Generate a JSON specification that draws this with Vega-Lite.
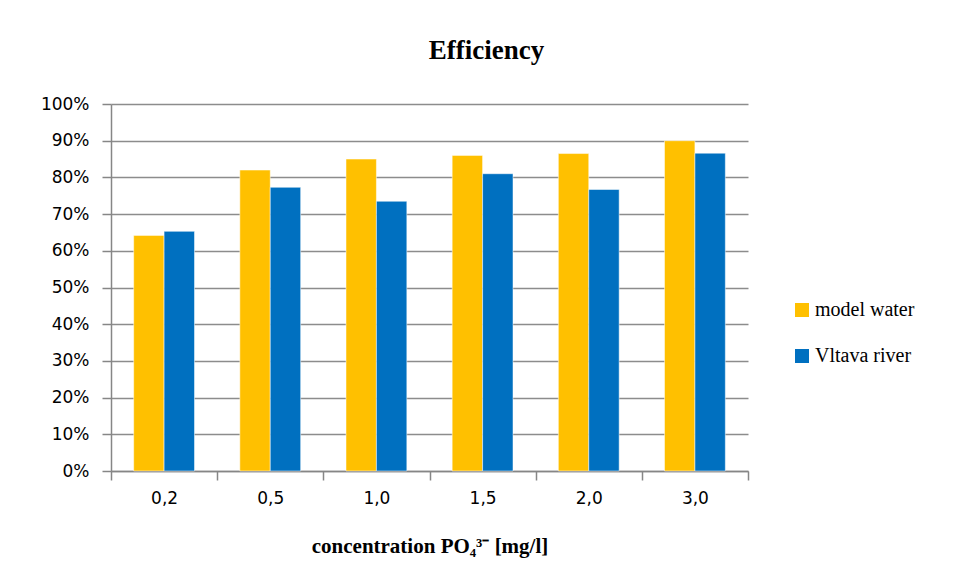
{
  "$schema": "https://vega.github.io/schema/vega-lite/v6.json",
  "autosize": "none",
  "width": 637,
  "height": 367,
  "padding": {"left": 111, "top": 104, "right": 207, "bottom": 112},
  "background": "white",
  "title": {
    "text": "Efficiency",
    "font": "Liberation Serif, serif",
    "fontSize": 27,
    "fontWeight": "bold",
    "color": "#000000",
    "anchor": "middle",
    "frame": "group",
    "dx": 57,
    "offset": 30
  },
  "data": {
    "values": [
      {"concentration": "0,2", "series": "model water", "efficiency": 64.2},
      {"concentration": "0,2", "series": "Vltava river", "efficiency": 65.3},
      {"concentration": "0,5", "series": "model water", "efficiency": 82.0},
      {"concentration": "0,5", "series": "Vltava river", "efficiency": 77.3},
      {"concentration": "1,0", "series": "model water", "efficiency": 85.0},
      {"concentration": "1,0", "series": "Vltava river", "efficiency": 73.5},
      {"concentration": "1,5", "series": "model water", "efficiency": 86.0},
      {"concentration": "1,5", "series": "Vltava river", "efficiency": 81.0},
      {"concentration": "2,0", "series": "model water", "efficiency": 86.5},
      {"concentration": "2,0", "series": "Vltava river", "efficiency": 76.7},
      {"concentration": "3,0", "series": "model water", "efficiency": 90.0},
      {"concentration": "3,0", "series": "Vltava river", "efficiency": 86.6}
    ]
  },
  "mark": {"type": "bar", "stroke": "white", "strokeWidth": 0.5},
  "encoding": {
    "x": {
      "field": "concentration",
      "type": "nominal",
      "sort": null,
      "scale": {"paddingInner": 0, "paddingOuter": 0},
      "axis": {
        "title": "concentration PO₄³⁻ [mg/l]",
        "titleFont": "Liberation Serif, serif",
        "titleFontSize": 21,
        "titleFontWeight": "bold",
        "titleColor": "#000000",
        "titlePadding": 29,
        "labelAngle": 0,
        "labelFont": "DejaVu Sans",
        "labelFontSize": 17,
        "labelColor": "#000000",
        "labelPadding": 10,
        "tickBand": "extent",
        "tickSize": 9,
        "tickColor": "#868686",
        "tickWidth": 1.5,
        "domainColor": "#868686",
        "domainWidth": 1.5,
        "grid": false
      }
    },
    "xOffset": {"field": "series", "type": "nominal", "sort": ["model water", "Vltava river"], "scale": {"paddingInner": 0, "paddingOuter": 0.745}},
    "y": {
      "field": "efficiency",
      "type": "quantitative",
      "scale": {"domain": [0, 100], "nice": false},
      "axis": {
        "title": null,
        "values": [0, 10, 20, 30, 40, 50, 60, 70, 80, 90, 100],
        "labelExpr": "datum.value + '%'",
        "labelFont": "DejaVu Sans",
        "labelFontSize": 17,
        "labelColor": "#000000",
        "labelPadding": 13,
        "tickSize": 9,
        "tickColor": "#868686",
        "tickWidth": 1.5,
        "domainColor": "#868686",
        "domainWidth": 1.5,
        "gridColor": "#8c8c8c",
        "gridWidth": 1.5
      }
    },
    "color": {
      "field": "series",
      "type": "nominal",
      "sort": ["model water", "Vltava river"],
      "scale": {"domain": ["model water", "Vltava river"], "range": ["#FFC000", "#0070C0"]},
      "legend": {
        "title": null,
        "orient": "none",
        "legendX": 681,
        "legendY": 196,
        "symbolType": "square",
        "symbolSize": 196,
        "symbolStrokeWidth": 0,
        "labelFont": "Liberation Serif, serif",
        "labelFontSize": 20,
        "labelColor": "#000000",
        "rowPadding": 26,
        "labelOffset": 3,
        "padding": 0
      }
    }
  },
  "config": {
    "view": {"stroke": null}
  }
}
